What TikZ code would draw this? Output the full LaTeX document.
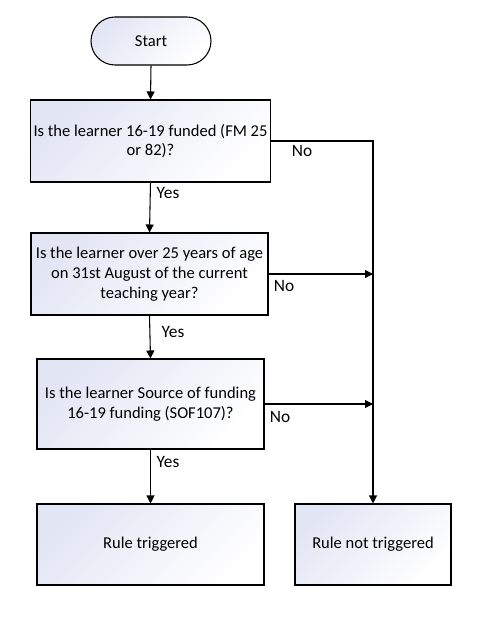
\documentclass[tikz,border=0pt]{standalone}
\usepackage{fontspec}
\setmainfont{Carlito}
\usetikzlibrary{arrows.meta}
\definecolor{shadeA}{RGB}{226,229,244}
\tikzset{
  box/.style={draw=black, line width=0.8pt, shade, top color=shadeA, bottom color=white, shading angle=45,
    align=center, inner sep=2pt, font=\fontsize{12.4}{14.8}\selectfont},
  term/.style={box, rounded corners=18pt},
  conn/.style={line width=0.8pt, -{Triangle[length=6pt,width=6pt]}},
  lab/.style={font=\fontsize{13}{15}\selectfont, inner sep=0pt}
}
\begin{document}
\begin{tikzpicture}[x=0.75pt,y=-0.75pt]
\useasboundingbox (0,0) rectangle (486,621);
\node[term, minimum width=90pt, minimum height=36pt] (start) at (151,41) {Start};
\node[box, minimum width=177.75pt, minimum height=61.5pt] (b1) at (150.5,141) {Is the learner 16-19 funded (FM 25\\or 82)?};
\node[box, minimum width=177.75pt, minimum height=61.5pt] (b2) at (149.5,274) {Is the learner over 25 years of age\\on 31st August of the current\\teaching year?};
\node[box, minimum width=170.25pt, minimum height=67.5pt] (b3) at (150.5,404) {Is the learner Source of funding\\16-19 funding (SOF107)?};
\node[box, minimum width=170.25pt, minimum height=60.75pt] (b4) at (150.5,544.5) {Rule triggered};
\node[box, minimum width=117pt, minimum height=60.75pt] (b5) at (373,544.5) {Rule not triggered};
\draw[conn] (start.south) -- (b1.north);
\draw[conn] (b1.south) -- (b2.north);
\draw[conn] (b2.south) -- (b3.north);
\draw[conn] (b3.south) -- (b4.north);
\draw[conn] (b1.east) -| (b5.north);
\draw[conn] (b2.east) -- (b2.east -| b5.north);
\draw[conn] (b3.east) -- (b3.east -| b5.north);
\node[lab] (no1) at (302,151) {No};
\node[lab] (yes1) at (168,193) {Yes};
\node[lab] (no2) at (284,286) {No};
\node[lab] (yes2) at (173,332) {Yes};
\node[lab] (no3) at (280,417) {No};
\node[lab] (yes3) at (168,462) {Yes};
\end{tikzpicture}
\end{document}
